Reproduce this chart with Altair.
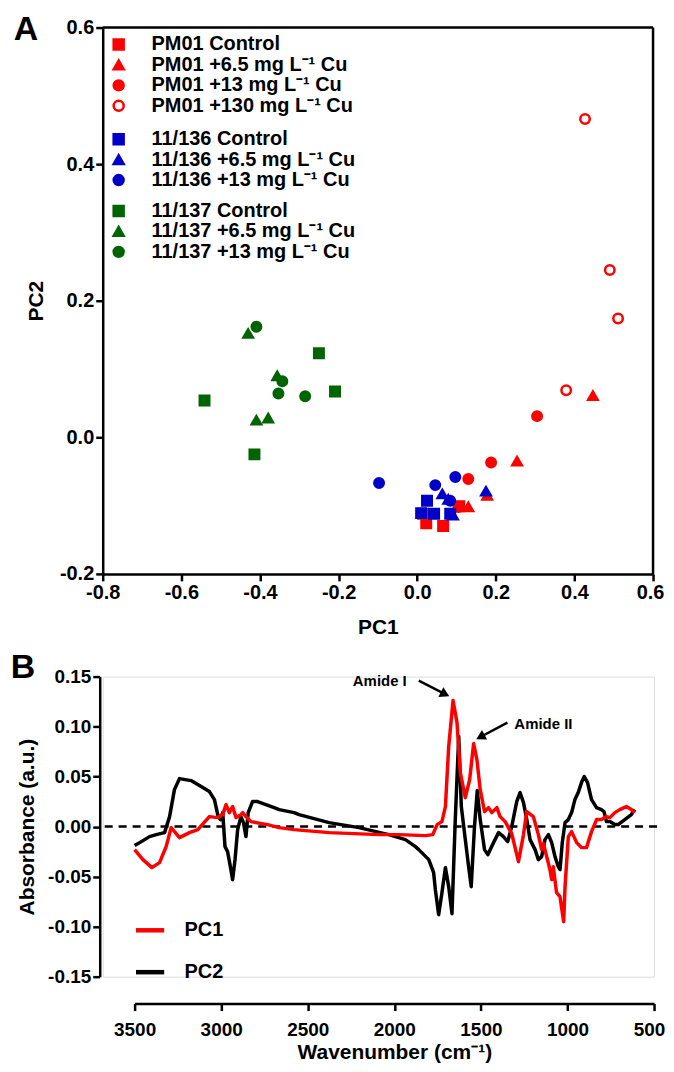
import altair as alt
import pandas as pd

FONT = "Liberation Sans"

# ---------------- Panel A: PCA scores ----------------
pm01_labels = ["PM01 Control", "PM01 +6.5 mg L⁻¹ Cu", "PM01 +13 mg L⁻¹ Cu", "PM01 +130 mg L⁻¹ Cu"]
s136_labels = ["11/136 Control", "11/136 +6.5 mg L⁻¹ Cu", "11/136 +13 mg L⁻¹ Cu"]
s137_labels = ["11/137 Control", "11/137 +6.5 mg L⁻¹ Cu", "11/137 +13 mg L⁻¹ Cu"]

pm01_ctrl_pc1 = [0.015, 0.023, 0.066, 0.107]
pm01_ctrl_pc2 = [-0.112, -0.126, -0.130, -0.101]
pm01_65_pc1 = [0.130, 0.178, 0.254, 0.447]
pm01_65_pc2 = [-0.102, -0.085, -0.035, 0.061]
pm01_13_pc1 = [0.105, 0.130, 0.188, 0.305]
pm01_13_pc2 = [-0.102, -0.061, -0.037, 0.031]
pm01_130_pc1 = [0.427, 0.490, 0.511, 0.379]
pm01_130_pc2 = [0.466, 0.245, 0.174, 0.069]

s136_ctrl_pc1 = [0.025, 0.043, 0.010, 0.084]
s136_ctrl_pc2 = [-0.093, -0.112, -0.111, -0.112]
s136_65_pc1 = [0.064, 0.079, 0.091, 0.175]
s136_65_pc2 = [-0.083, -0.091, -0.114, -0.079]
s136_13_pc1 = [-0.097, 0.046, 0.097, 0.084]
s136_13_pc2 = [-0.067, -0.070, -0.058, -0.093]

s137_ctrl_pc1 = [-0.250, -0.209, -0.541, -0.414]
s137_ctrl_pc2 = [0.123, 0.067, 0.054, -0.025]
s137_65_pc1 = [-0.430, -0.356, -0.409, -0.379]
s137_65_pc2 = [0.152, 0.090, 0.025, 0.028]
s137_13_pc1 = [-0.409, -0.343, -0.353, -0.285]
s137_13_pc2 = [0.162, 0.082, 0.064, 0.060]

RED, BLUE, GREEN = "#FF0000", "#0000C8", "#006400"

def frame(labels, xs, ys):
    rows = []
    for lab, xv, yv in zip(labels, xs, ys):
        for a, b in zip(xv, yv):
            rows.append({"label": lab, "pc1": a, "pc2": b})
    return pd.DataFrame(rows)

df_pm01 = frame(pm01_labels, [pm01_ctrl_pc1, pm01_65_pc1, pm01_13_pc1, pm01_130_pc1],
                [pm01_ctrl_pc2, pm01_65_pc2, pm01_13_pc2, pm01_130_pc2])
df_136 = frame(s136_labels, [s136_ctrl_pc1, s136_65_pc1, s136_13_pc1],
               [s136_ctrl_pc2, s136_65_pc2, s136_13_pc2])
df_137 = frame(s137_labels, [s137_ctrl_pc1, s137_65_pc1, s137_13_pc1],
               [s137_ctrl_pc2, s137_65_pc2, s137_13_pc2])

def neg_fmt(fmt):
    return f"(datum.value < 0 ? '-' : '') + format(abs(datum.value), '{fmt}')"

AX = dict(labelFont=FONT, labelFontSize=20, labelFontWeight="bold", labelColor="black",
          titleFont=FONT, titleFontSize=21, titleFontWeight="bold", titleColor="black",
          domainColor="black", domainWidth=2.5, tickColor="black", tickWidth=2.5,
          tickSize=7, grid=False, labelFlush=False)

xA = alt.X("pc1:Q", scale=alt.Scale(domain=[-0.8, 0.6], nice=False, zero=False),
           axis=alt.Axis(values=[-0.8, -0.6, -0.4, -0.2, 0.0, 0.2, 0.4, 0.6],
                         labelExpr=neg_fmt(".1f"), title="PC1", titlePadding=14,
                         labelOffset={"condition": {"test": "datum.value > 0.55", "value": -3},
                                      "value": 0},
                         **AX))
yA = alt.Y("pc2:Q", scale=alt.Scale(domain=[-0.2, 0.6], nice=False, zero=False),
           axis=alt.Axis(values=[-0.2, 0.0, 0.2, 0.4, 0.6],
                         labelExpr=neg_fmt(".1f"), title="PC2", titlePadding=13, **AX))

def strain_layer(df, labels, fills, strokes, shapes, ly):
    lg = alt.Legend(orient="none", legendX=6, legendY=ly, title=None, padding=0,
                    labelFont=FONT, labelFontSize=20, labelFontWeight="bold", labelColor="black",
                    symbolSize=100, symbolStrokeWidth=2.5, labelOffset=23, rowPadding=0.5,
                    labelLimit=400)
    return alt.Chart(df).mark_point(opacity=1, strokeWidth=2.5, size=90).encode(
        x=xA, y=yA,
        shape=alt.Shape("label:N", scale=alt.Scale(domain=labels, range=shapes), legend=lg),
        fill=alt.Fill("label:N", scale=alt.Scale(domain=labels, range=fills), legend=lg),
        stroke=alt.Stroke("label:N", scale=alt.Scale(domain=labels, range=strokes), legend=lg),
    )

l_pm01 = strain_layer(df_pm01, pm01_labels, [RED, RED, RED, "white"], [RED] * 4,
                      ["square", "triangle-up", "circle", "circle"], 7)
l_136 = strain_layer(df_136, s136_labels, [BLUE] * 3, [BLUE] * 3,
                     ["square", "triangle-up", "circle"], 102)
l_137 = strain_layer(df_137, s137_labels, [GREEN] * 3, [GREEN] * 3,
                     ["square", "triangle-up", "circle"], 174)

WA, HA = 552, 548
top_edge = alt.Chart(df_pm01.head(1)).mark_rule(color="black", strokeWidth=2.5).encode(
    x=alt.value(0), x2=alt.value(WA), y=alt.value(0))
right_edge = alt.Chart(df_pm01.head(1)).mark_rule(color="black", strokeWidth=2.5).encode(
    x=alt.value(WA), y=alt.value(0), y2=alt.value(HA))
label_a = alt.Chart(pd.DataFrame({"t": ["A"]})).mark_text(
    font=FONT, fontSize=34, fontWeight="bold", color="black", baseline="middle", align="center"
).encode(text="t:N", x=alt.value(-77), y=alt.value(2))

panel_a = alt.layer(l_pm01, l_136, l_137, top_edge, right_edge, label_a).resolve_scale(
    shape="independent", fill="independent", stroke="independent"
).properties(width=WA, height=HA)

# ---------------- Panel B: loadings ----------------
pc1_wn = [3500, 3452, 3400, 3356, 3318, 3289, 3241, 3183, 3135, 3068, 3020, 2991, 2972, 2953,
          2934, 2914, 2886, 2876, 2857, 2828, 2732, 2665, 2579, 2377, 2089, 1974, 1820, 1778,
          1753, 1725, 1705, 1686, 1661, 1638, 1619, 1590, 1565, 1542, 1523, 1504, 1479, 1456,
          1437, 1408, 1389, 1360, 1322, 1283, 1254, 1235, 1197, 1168, 1149, 1139, 1120, 1101,
          1091, 1082, 1063, 1043, 1022, 1014, 995, 976, 947, 919, 890, 861, 832, 804, 775, 755,
          726, 698, 660, 631, 611]
pc1_val = [-0.023, -0.033, -0.041, -0.036, -0.020, -0.001, -0.011, -0.006, -0.003, 0.010, 0.009,
           0.012, 0.022, 0.014, 0.020, 0.009, 0.012, 0.014, 0.010, 0.005, 0.002, -0.001, -0.003,
           -0.006, -0.008, -0.008, -0.009, -0.008, 0.002, 0.005, 0.020, 0.080, 0.126, 0.104,
           0.054, 0.029, 0.047, 0.083, 0.067, 0.037, 0.015, 0.019, 0.014, 0.019, 0.010, 0.005,
           -0.007, -0.035, -0.008, 0.015, 0.010, -0.008, -0.023, -0.017, -0.030, -0.043, -0.053,
           -0.040, -0.066, -0.070, -0.095, -0.060, -0.010, -0.005, -0.016, -0.021, -0.021,
           -0.005, 0.007, 0.007, 0.010, 0.009, 0.014, 0.017, 0.020, 0.017, 0.014]

pc2_wn = [3500, 3461, 3414, 3375, 3327, 3298, 3270, 3241, 3174, 3116, 3068, 3039, 3020, 3005,
          2991, 2978, 2963, 2947, 2934, 2920, 2905, 2886, 2871, 2857, 2844, 2819, 2790, 2694,
          2665, 2579, 2550, 2377, 2204, 2032, 1974, 1936, 1878, 1859, 1801, 1773, 1763, 1744,
          1725, 1705, 1686, 1667, 1648, 1628, 1613, 1590, 1571, 1556, 1537, 1521, 1504, 1479,
          1460, 1427, 1398, 1370, 1345, 1322, 1293, 1274, 1254, 1235, 1216, 1187, 1168, 1149,
          1130, 1110, 1091, 1072, 1053, 1043, 1030, 1014, 995, 976, 957, 938, 919, 903, 884,
          861, 832, 804, 789, 775, 755, 726, 707, 669, 631, 611]
pc2_val = [-0.019, -0.015, -0.010, -0.008, -0.006, 0.010, 0.037, 0.048, 0.046, 0.040, 0.035,
           0.027, 0.012, 0.007, 0.014, -0.020, -0.025, -0.040, -0.053, -0.033, -0.003, 0.010,
           0.004, -0.010, 0.014, 0.025, 0.025, 0.019, 0.017, 0.014, 0.012, 0.004, -0.001,
           -0.008, -0.011, -0.013, -0.020, -0.023, -0.033, -0.046, -0.063, -0.088, -0.066,
           -0.041, -0.060, -0.087, 0.007, 0.090, 0.020, -0.013, -0.040, -0.060, 0.000, 0.036,
           0.007, -0.023, -0.028, -0.016, -0.006, -0.010, -0.015, 0.000, 0.025, 0.034, 0.024,
           0.007, -0.013, -0.023, -0.033, -0.030, -0.013, -0.008, -0.016, -0.030, -0.040,
           -0.043, -0.016, 0.004, 0.007, 0.014, 0.027, 0.034, 0.044, 0.050, 0.044, 0.027, 0.019,
           0.017, 0.015, 0.005, 0.005, 0.002, 0.002, 0.007, 0.012, 0.017]

series_names = ["PC1", "PC2"]
series_colors = ["#FF0000", "black"]

amide_labels = ["Amide I", "Amide II"]
amide_text_wn = [2084, 1139]
amide_text_val = [0.146, 0.103]
arrow_tail_wn = [1859, 1347]
arrow_tail_val = [0.146, 0.104]
arrow_tip_wn = [1669, 1542]
arrow_tip_val = [0.129, 0.086]
arrow_angles = [117, 242]

df_pc1 = pd.DataFrame({"wn": pc1_wn, "val": pc1_val, "series": "PC1"})
df_pc2 = pd.DataFrame({"wn": pc2_wn, "val": pc2_val, "series": "PC2"})

AXB = dict(AX, labelFontSize=19)
WB, HB = 553, 301
xB = alt.X("wn:Q", scale=alt.Scale(domain=[3500, 500], range=[32, WB], nice=False, zero=False),
           axis=alt.Axis(values=[3500, 3000, 2500, 2000, 1500, 1000, 500], format="d",
                         offset=27, title="Wavenumber (cm⁻¹)", titlePadding=2, labelPadding=10,
                         labelOffset={"condition": {"test": "datum.value < 600", "value": -5},
                                      "value": 0},
                         **AXB))
yB = alt.Y("val:Q", scale=alt.Scale(domain=[-0.15, 0.15], nice=False, zero=False),
           axis=alt.Axis(values=[-0.15, -0.10, -0.05, 0.0, 0.05, 0.10, 0.15],
                         labelExpr=neg_fmt(".2f"), offset=3,
                         title="Absorbance (a.u.)", titlePadding=10, **AXB))
colB = alt.Color("series:N", scale=alt.Scale(domain=series_names, range=series_colors),
                 legend=alt.Legend(orient="none", legendX=31, legendY=889, title=None, padding=0,
                                   symbolType="stroke", symbolStrokeWidth=4.5, symbolSize=800,
                                   labelFont=FONT, labelFontSize=20, labelFontWeight="bold",
                                   labelColor="black", labelOffset=18, rowPadding=15))

line_pc2 = alt.Chart(df_pc2).mark_line(strokeWidth=3.5, strokeJoin="round").encode(
    x=xB, y=yB, color=colB, order="wn:Q")
line_pc1 = alt.Chart(df_pc1).mark_line(strokeWidth=3.5, strokeJoin="round").encode(
    x=xB, y=yB, color=colB, order="wn:Q")

zero_line = alt.Chart(pd.DataFrame({"v": [0.0]})).mark_rule(
    color="black", strokeWidth=2.5, strokeDash=[8, 6]).encode(
    y=alt.Y("v:Q"), x=alt.value(2), x2=alt.value(WB + 4))

df_amide = pd.DataFrame({"label": amide_labels, "wn": amide_text_wn, "val": amide_text_val})
amide_text = alt.Chart(df_amide).mark_text(
    font=FONT, fontSize=15, fontWeight="bold", color="black", baseline="middle", align="center"
).encode(x="wn:Q", y="val:Q", text="label:N")

head_wn = [t - 0.2 * (t - s) for s, t in zip(arrow_tail_wn, arrow_tip_wn)]
head_val = [t - 0.2 * (t - s) for s, t in zip(arrow_tail_val, arrow_tip_val)]
df_arrow = pd.DataFrame({"wn": arrow_tail_wn, "val": arrow_tail_val,
                         "wn2": head_wn, "val2": head_val})
arrow_shaft = alt.Chart(df_arrow).mark_rule(color="black", strokeWidth=2.5).encode(
    x="wn:Q", y="val:Q", x2="wn2:Q", y2="val2:Q")
arrow_heads = [
    alt.Chart(pd.DataFrame({"wn": [w], "val": [v]})).mark_point(
        shape="triangle-up", filled=True, size=120, color="black", opacity=1, angle=a
    ).encode(x="wn:Q", y="val:Q")
    for w, v, a in zip(head_wn, head_val, arrow_angles)
]

label_b = alt.Chart(pd.DataFrame({"t": ["B"]})).mark_text(
    font=FONT, fontSize=34, fontWeight="bold", color="black", baseline="middle", align="center"
).encode(text="t:N", x=alt.value(-80), y=alt.value(-9))

panel_b = alt.layer(zero_line, line_pc2, line_pc1, amide_text, arrow_shaft, *arrow_heads,
                    label_b).properties(width=WB, height=HB)

chart = alt.vconcat(panel_a, panel_b, spacing=11).properties(
    padding={"left": 2, "top": 2, "right": 0, "bottom": 0}
).configure_view(strokeWidth=0, stroke="transparent").configure(font=FONT)

chart.save("out.html", embed_options={"renderer": "svg", "actions": False})
